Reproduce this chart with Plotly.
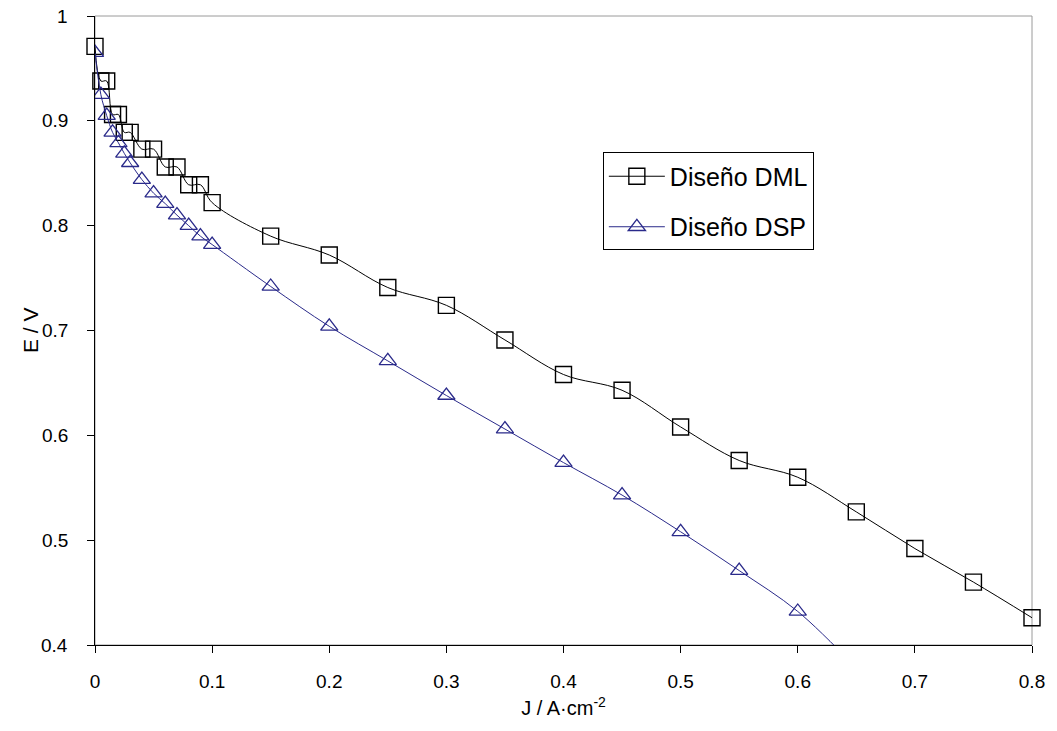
import plotly.graph_objects as go

# Data
j_dml = [0, 0.005, 0.01, 0.015, 0.02, 0.025, 0.03, 0.04, 0.05, 0.06, 0.07, 0.08, 0.09, 0.1,
         0.15, 0.2, 0.25, 0.3, 0.35, 0.4, 0.45, 0.5, 0.55, 0.6, 0.65, 0.7, 0.75, 0.8]
e_dml = [0.971, 0.938, 0.938, 0.906, 0.906, 0.889, 0.889, 0.873, 0.873, 0.856, 0.856, 0.839, 0.839, 0.822,
         0.790, 0.772, 0.741, 0.724, 0.691, 0.658, 0.643, 0.608, 0.576, 0.560, 0.527, 0.492, 0.460, 0.426]

j_dsp = [0, 0.005, 0.01, 0.015, 0.02, 0.025, 0.03, 0.04, 0.05, 0.06, 0.07, 0.08, 0.09, 0.1,
         0.15, 0.2, 0.25, 0.3, 0.35, 0.4, 0.45, 0.5, 0.55, 0.6, 0.65]
e_dsp = [0.965, 0.925, 0.905, 0.889, 0.879, 0.869, 0.860, 0.844, 0.831, 0.821, 0.810, 0.800, 0.790, 0.782,
         0.742, 0.704, 0.671, 0.638, 0.606, 0.574, 0.543, 0.508, 0.471, 0.432, 0.378]

x_ticks = [0, 0.1, 0.2, 0.3, 0.4, 0.5, 0.6, 0.7, 0.8]
y_ticks = [0.4, 0.5, 0.6, 0.7, 0.8, 0.9, 1.0]

FONT = "Liberation Sans, Arial, sans-serif"
navy = "#2a2a8a"

fig = go.Figure()
fig.add_trace(go.Scatter(
    x=j_dml, y=e_dml, mode="lines+markers", name="Diseño DML",
    line=dict(color="black", width=1, shape="spline", smoothing=1),
    marker=dict(symbol="square-open", size=16, color="black", line=dict(width=1.4)),
    cliponaxis=False, legendgroup="a",
))
fig.add_trace(go.Scatter(
    x=j_dsp, y=e_dsp, mode="lines+markers", name="Diseño DSP",
    line=dict(color=navy, width=1, shape="spline", smoothing=1),
    marker=dict(symbol="triangle-up-open", size=15, color=navy, line=dict(width=1.3)),
    legendgroup="b",
))

# y tick labels placed via the y axis scale, offset further from the axis as in the reference
annotations = [dict(text=f"{v:g}", xref="paper", yref="y", x=-0.027, y=v,
                    xanchor="right", yanchor="middle", showarrow=False,
                    font=dict(size=19)) for v in y_ticks]
annotations.append(dict(text="E / V", xref="paper", yref="paper", x=-0.0688, y=0.5,
                        xanchor="center", yanchor="middle", textangle=-90, showarrow=False,
                        font=dict(size=21)))

fig.update_layout(
    width=1057, height=731,
    margin=dict(l=95, r=17, t=16, b=86),
    paper_bgcolor="white", plot_bgcolor="white",
    font=dict(family=FONT, size=20, color="black"),
    showlegend=True,
    legend=dict(
        x=0.542, y=0.783, xanchor="left", yanchor="top",
        bordercolor="black", borderwidth=1, bgcolor="white",
        font=dict(size=25), traceorder="grouped", tracegroupgap=15,
        itemwidth=56,
    ),
    xaxis=dict(
        range=[0, 0.8], tickvals=x_ticks, ticktext=[f"{v:g}" for v in x_ticks],
        showgrid=False, zeroline=False, showline=True, linecolor="black", linewidth=1,
        ticks="outside", ticklen=7, tickcolor="black", ticklabelstandoff=12,
        tickfont=dict(size=19), title=dict(text="J / A·cm<sup>-2</sup>", font=dict(size=20), standoff=10),
    ),
    yaxis=dict(
        range=[0.4, 1.0], tickvals=y_ticks, showticklabels=False,
        showgrid=False, zeroline=False, showline=True, linecolor="black", linewidth=1,
        ticks="outside", ticklen=7, tickcolor="black",
    ),
    annotations=annotations,
    shapes=[dict(type="rect", xref="paper", yref="paper", x0=0, y0=0, x1=1, y1=1,
                 line=dict(color="#9a9a9a", width=1), layer="below")],
)

fig.write_html("out.html")
